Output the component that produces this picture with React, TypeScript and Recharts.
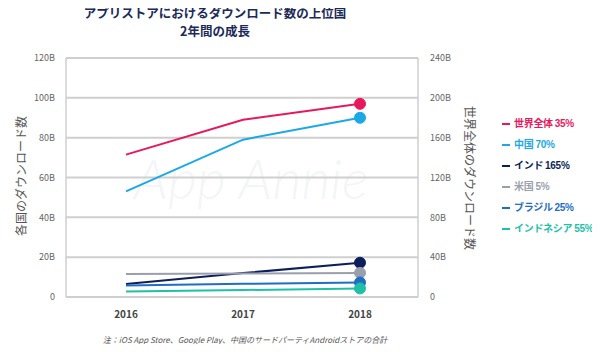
import { CartesianGrid, Line, LineChart, XAxis, YAxis } from 'recharts';

const years = ['2016', '2017', '2018'];

// 各国 (left axis, B)
const china = [53, 79, 90];
const india = [6.5, 12, 17.2];
const usa = [11.5, 11.8, 12.1];
const brazil = [5.8, 6.6, 7.3];
const indonesia = [2.8, 3.5, 4.3];
// 世界全体 (right axis, B)
const world = [143, 178, 194];

const seriesNames = ['世界全体', '中国', 'インド', '米国', 'ブラジル', 'インドネシア'];
const growth = ['35%', '70%', '165%', '5%', '25%', '55%'];
const seriesKeys = ['world', 'china', 'india', 'usa', 'brazil', 'indonesia'];
const seriesColors = ['#e8185e', '#1ba8e6', '#0c1f5a', '#9a9fae', '#1f6ec6', '#1ec0a6'];

const leftTicks = [0, 20, 40, 60, 80, 100, 120];
const rightTicks = [0, 40, 80, 120, 160, 200, 240];

const data = years.map((year, i) => ({
  year,
  world: world[i],
  china: china[i],
  india: india[i],
  usa: usa[i],
  brazil: brazil[i],
  indonesia: indonesia[i],
}));

const FONT = '"Noto Sans CJK JP", "Noto Sans", Arial, sans-serif';
const GRID = '#cfcfcf';
const fmtB = (v: number) => (v === 0 ? '0' : `${v}B`);

function EndDot(color: string) {
  return (props: any) => {
    const { cx, cy, index } = props;
    if (index !== years.length - 1) return <g key={`d${index}`} />;
    return <circle key={`d${index}`} cx={cx} cy={cy} r={5.5} fill={color} stroke={color} />;
  };
}

function LegendList() {
  return (
    <div style={{ position: 'absolute', left: 502, top: 112, fontSize: 10, fontWeight: 700, letterSpacing: -0.3 }}>
      {seriesNames.map((name, i) => (
        <div key={name} style={{ color: seriesColors[i], height: 21, lineHeight: '21px', whiteSpace: 'nowrap' }}>
          <span style={{ display: 'inline-block', width: 8, height: 2, background: seriesColors[i], verticalAlign: 'middle', marginRight: 4 }} />
          {name} <span style={{ fontFamily: '"Liberation Sans", Arial, sans-serif' }}>{growth[i]}</span>
        </div>
      ))}
    </div>
  );
}

export default function App() {
  return (
    <div style={{ position: 'relative', margin: -8, width: 600, height: 352, background: '#fff', fontFamily: FONT }}>
      <div
        style={{
          position: 'absolute', left: 134, top: 148, fontFamily: 'Lato, sans-serif', fontStyle: 'italic',
          fontWeight: 300, fontSize: 56, color: '#f4f5f7', whiteSpace: 'nowrap', lineHeight: '60px',
        }}
      >
        App Annie
      </div>
      <div style={{ position: 'absolute', left: 0, width: 430, top: 5, textAlign: 'center', color: '#1c2a58', fontWeight: 700, fontSize: 12.5, lineHeight: '16px', height: 16 }}>
        アプリストアにおけるダウンロード数の上位国
      </div>
      <div style={{ position: 'absolute', left: 0, width: 430, top: 23, textAlign: 'center', color: '#1c2a58', fontWeight: 700, fontSize: 12.5, lineHeight: '16px', height: 16 }}>
        2年間の成長
      </div>
      <div style={{ position: 'absolute', left: 0, top: 0, width: 600, height: 352 }}>
        <LineChart width={600} height={352} data={data} margin={{ top: 58, right: 142, bottom: 25, left: 0 }}>
          <CartesianGrid vertical={false} horizontal stroke={GRID} strokeWidth={2} />
          <XAxis
            dataKey="year"
            padding={{ left: 60, right: 58 }}
            axisLine={{ stroke: GRID, strokeWidth: 1.5 }}
            tickLine={false}
            height={30}
            tick={{ fontSize: 10, fill: '#444', fontWeight: 600, fontFamily: FONT }}
            tickMargin={8}
          />
          <YAxis
            domain={[0, 120]}
            ticks={leftTicks}
            tickFormatter={fmtB}
            width={66}
            axisLine={{ stroke: GRID, strokeWidth: 1.5 }}
            tickLine={false}
            tick={{ fontSize: 9, fill: '#666', fontFamily: FONT }}
            tickMargin={5}
          />
          {/* mirrored helper axis: its long tick lines act as the horizontal grid */}
          <YAxis
            yAxisId="grid"
            mirror
            domain={[0, 120]}
            ticks={leftTicks.slice(1)}
            axisLine={false}
            tick={false}
            tickSize={352}
            tickLine={{ stroke: GRID, strokeWidth: 2 }}
          />
          <YAxis
            yAxisId="right"
            orientation="right"
            domain={[0, 240]}
            ticks={rightTicks}
            tickFormatter={fmtB}
            width={40}
            axisLine={{ stroke: GRID, strokeWidth: 1.5 }}
            tickLine={false}
            tick={{ fontSize: 9, fill: '#666', fontFamily: FONT }}
            tickMargin={6}
          />
          {seriesKeys.map((key, i) => (
            <Line
              key={key}
              yAxisId={key === 'world' ? 'right' : 0}
              dataKey={key}
              name={seriesNames[i]}
              stroke={seriesColors[i]}
              strokeWidth={2}
              dot={EndDot(seriesColors[i])}
              activeDot={false}
              isAnimationActive={false}
            />
          ))}
        </LineChart>
      </div>
      <LegendList />
      <div
        style={{
          position: 'absolute', left: 20, top: 176, transform: 'translate(-50%, -50%) rotate(-90deg)', transformOrigin: 'center',
          fontSize: 12, color: '#555', whiteSpace: 'nowrap',
        }}
      >
        各国のダウンロード数
      </div>
      <div
        style={{
          position: 'absolute', left: 470, top: 178, transform: 'translate(-50%, -50%) rotate(90deg)', transformOrigin: 'center',
          fontSize: 12, color: '#555', whiteSpace: 'nowrap',
        }}
      >
        世界全体のダウンロード数
      </div>
      <div style={{ position: 'absolute', left: 0, width: 490, top: 334, textAlign: 'center', fontSize: 8, fontStyle: 'italic', color: '#555' }}>
        注：iOS App Store、Google Play、中国のサードパーティAndroidストアの合計
      </div>
    </div>
  );
}
